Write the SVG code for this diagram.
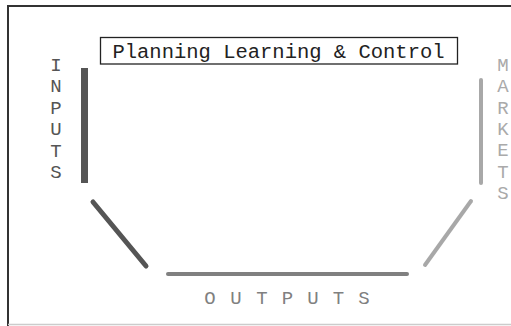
<svg xmlns="http://www.w3.org/2000/svg" width="511" height="326" viewBox="0 0 511 326">
<style>
.t{font-family:"Liberation Mono","Courier New",monospace;text-anchor:middle}
.v{font-size:19px}
</style>
<rect width="511" height="326" fill="#fff"/>
<g id="frame">
<line x1="8" y1="6" x2="511" y2="6" stroke="#333" stroke-width="2"/>
<line x1="8" y1="5" x2="8" y2="326" stroke="#333" stroke-width="2"/>
<line x1="8" y1="324.5" x2="511" y2="324.5" stroke="#ccc" stroke-width="1.5"/>
</g>
<g id="title">
<rect x="100.5" y="37.5" width="357" height="26.5" fill="none" stroke="#222" stroke-width="1.3"/>
<text class="t" x="278.5" y="58" font-size="20.5" fill="#222">Planning Learning &amp; Control</text>
</g>
<g id="connectors" fill="none">
<line x1="84.5" y1="68" x2="84.5" y2="183" stroke="#555" stroke-width="7"/>
<line x1="93" y1="202" x2="146" y2="266" stroke="#555" stroke-width="5" stroke-linecap="round"/>
<line x1="168" y1="274" x2="407" y2="274" stroke="#808080" stroke-width="4" stroke-linecap="round"/>
<line x1="425" y1="265" x2="471" y2="201" stroke="#a8a8a8" stroke-width="4" stroke-linecap="round"/>
<line x1="481" y1="80" x2="481" y2="183" stroke="#a8a8a8" stroke-width="4" stroke-linecap="round"/>
</g>
<g id="inputs" class="t v" fill="#555">
<text x="56" y="71">I</text>
<text x="56" y="92.4">N</text>
<text x="56" y="113.8">P</text>
<text x="56" y="135.2">U</text>
<text x="56" y="156.6">T</text>
<text x="56" y="178">S</text>
</g>
<g id="markets" class="t v" fill="#aaa">
<text x="503" y="71">M</text>
<text x="503" y="92.3">A</text>
<text x="503" y="113.6">R</text>
<text x="503" y="135">K</text>
<text x="503" y="156.3">E</text>
<text x="503" y="177.6">T</text>
<text x="503" y="199">S</text>
</g>
<g id="outputs" class="t v" fill="#808080">
<text x="210" y="304">O</text>
<text x="236" y="304">U</text>
<text x="262" y="304">T</text>
<text x="287.5" y="304">P</text>
<text x="313" y="304">U</text>
<text x="338.5" y="304">T</text>
<text x="364" y="304">S</text>
</g>
</svg>
